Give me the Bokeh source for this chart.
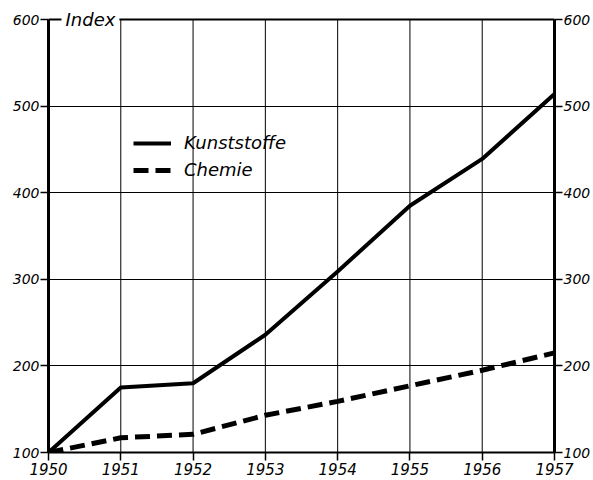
from bokeh.plotting import figure
from bokeh.models import LinearAxis, FixedTicker, Legend, LegendItem, Label, Range1d, Span
from bokeh.embed import file_html
from bokeh.resources import INLINE

years = [1950, 1951, 1952, 1953, 1954, 1955, 1956, 1957]
kunststoffe = [100, 175, 180, 236, 309, 385, 439, 514]
chemie = [100, 117, 121, 143, 159, 177, 195, 215]
y_ticks = [100, 200, 300, 400, 500, 600]
series_names = ["Kunststoffe", "Chemie"]
y_title = "Index"

FONT = "DejaVu Sans"
Y_TOP = 616.2  # headroom above the 600 line so the title label fits in the frame

p = figure(width=593, height=480, output_backend="svg", toolbar_location=None,
           x_range=Range1d(years[0], years[-1]), y_range=Range1d(y_ticks[0], Y_TOP),
           x_axis_location=None, y_axis_location=None,
           min_border_left=48, min_border_right=37, min_border_top=5, min_border_bottom=28)
p.background_fill_color = "white"
p.border_fill_color = "white"
p.outline_line_color = None

def style_axis(ax, ticks, size):
    ax.ticker = FixedTicker(ticks=ticks)
    ax.axis_line_color = "black"
    ax.major_tick_line_color = "black"
    ax.major_tick_line_width = 1.5
    ax.major_tick_in = 0
    ax.major_tick_out = 8
    ax.minor_tick_line_color = None
    ax.major_label_text_font = FONT
    ax.major_label_text_font_style = "italic"
    ax.major_label_text_font_size = size
    ax.major_label_text_color = "black"
    ax.major_label_standoff = 1

left = LinearAxis(bounds=(y_ticks[0], y_ticks[-1]))
style_axis(left, y_ticks, "14px")
left.axis_line_width = 3
p.add_layout(left, "left")

right = LinearAxis(bounds=(y_ticks[0], y_ticks[-1]))
style_axis(right, y_ticks, "14px")
right.axis_line_width = 3
p.add_layout(right, "right")

bottom = LinearAxis()
style_axis(bottom, years, "15px")
bottom.axis_line_width = 2
bottom.major_label_standoff = 2
bottom.major_label_overrides = {y: str(y) for y in years}
p.add_layout(bottom, "below")

# horizontal grid from the library; vertical grid lines drawn only up to the 600 line
p.xgrid.visible = False
p.ygrid.ticker = FixedTicker(ticks=y_ticks)
p.ygrid.grid_line_color = "black"
p.ygrid.grid_line_width = 1
p.segment(x0=years, y0=[y_ticks[0]] * len(years), x1=years, y1=[y_ticks[-1]] * len(years),
          line_color="black", line_width=1, level="underlay")

top_line = Span(location=y_ticks[-1], dimension="width", line_color="black",
                line_width=2, level="underlay")
p.add_layout(top_line)

r1 = p.line(years, kunststoffe, line_color="black", line_width=4, line_join="round")
r2 = p.line(years, chemie, line_color="black", line_width=5, line_dash="15 7")

legend = Legend(items=[LegendItem(label=series_names[0], renderers=[r1]),
                       LegendItem(label=series_names[1], renderers=[r2])],
                location=(85, 272))
legend.background_fill_alpha = 0
legend.border_line_color = None
legend.padding = 0
legend.margin = 0
legend.glyph_width = 38
legend.glyph_height = 20
legend.label_height = 20
legend.spacing = 6
legend.label_standoff = 13
legend.label_text_font = FONT
legend.label_text_font_style = "italic"
legend.label_text_font_size = "18px"
legend.label_text_color = "black"
p.add_layout(legend, "center")

lab = Label(x=years[0], y=y_ticks[-1], text=y_title, x_offset=13, y_offset=0,
            text_baseline="middle", text_align="left",
            text_font=FONT, text_font_style="italic", text_font_size="18px",
            text_color="black", background_fill_color="white", padding=4, level="overlay")
p.add_layout(lab)

open("out.html", "w").write(file_html(p, INLINE))
